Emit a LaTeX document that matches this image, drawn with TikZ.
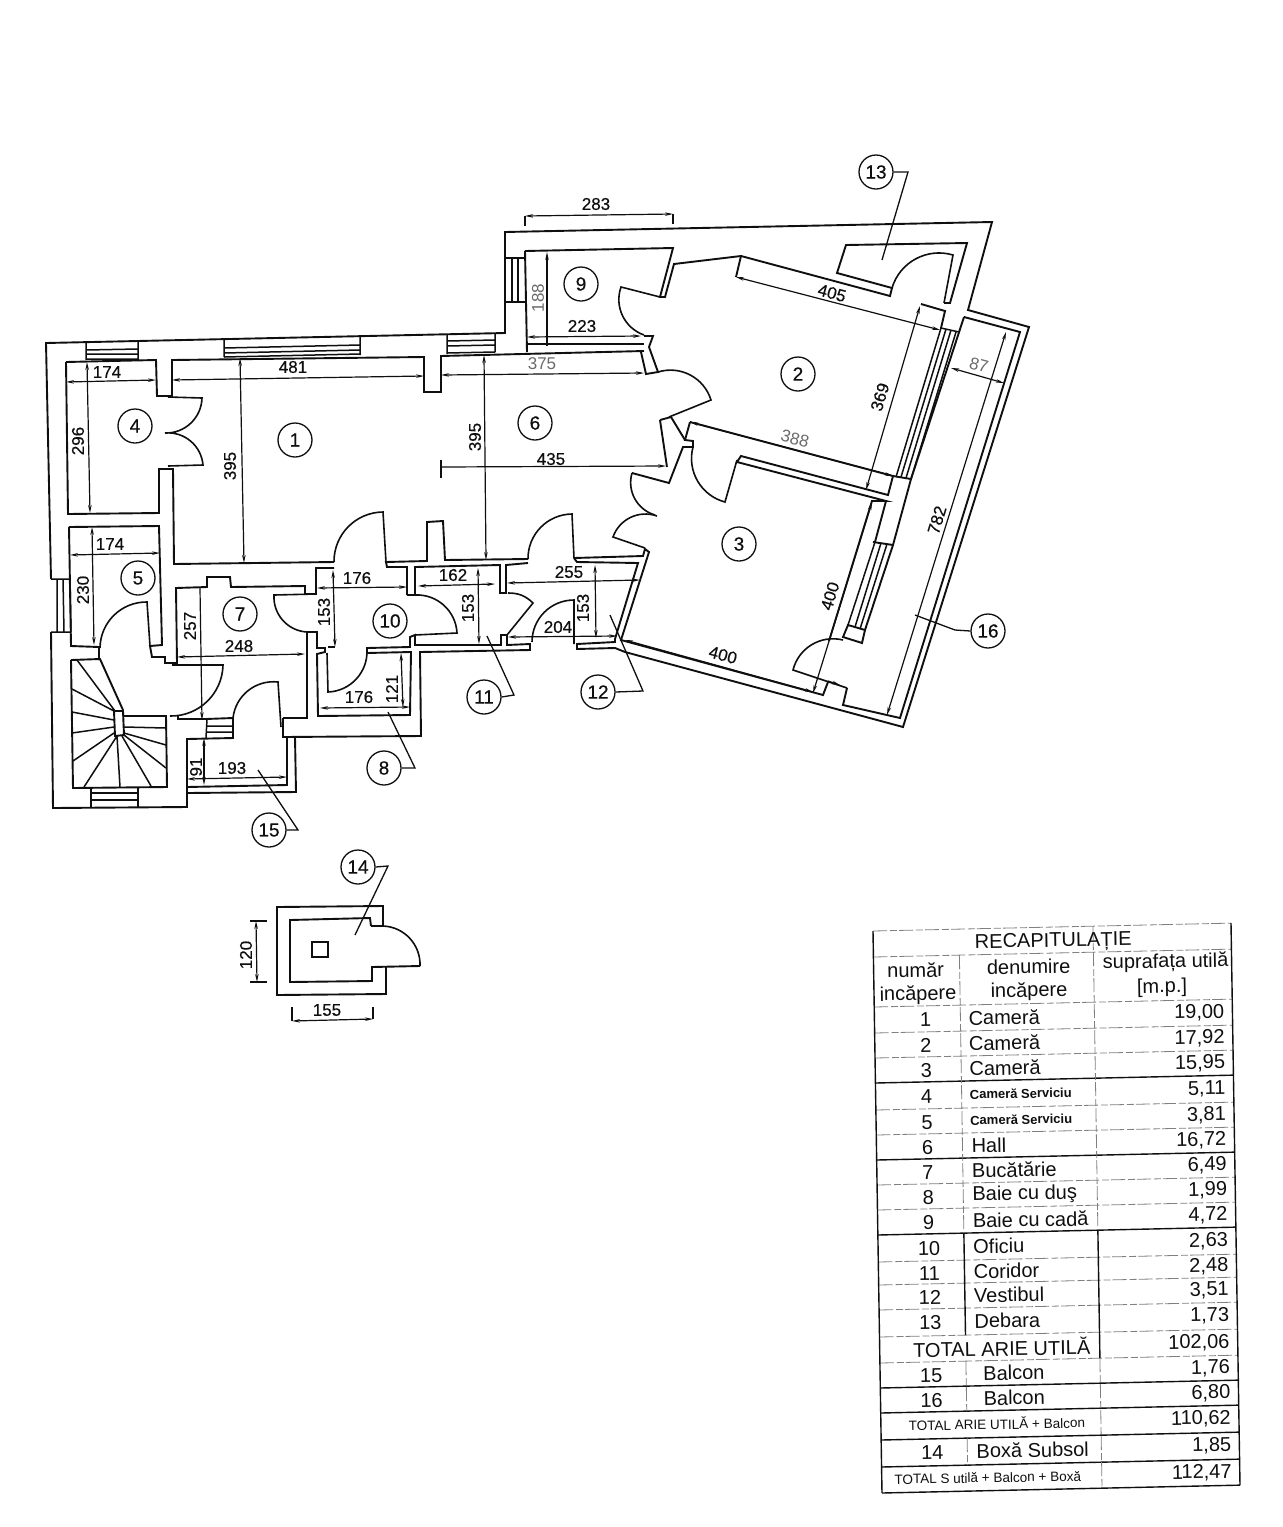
\documentclass[tikz,border=0pt]{standalone}
\usepackage{fontspec}
\setmainfont{Liberation Sans}
\newfontfamily\plandigits[FakeBold=0.5]{Liberation Sans}
\usetikzlibrary{arrows.meta}
\definecolor{ink}{gray}{0.06}
\tikzset{
 wall/.style={draw=ink,line width=1.9pt,line join=miter},
 thin wall/.style={draw=ink,line width=1.5pt},
 doorarc/.style={draw=ink,line width=1.6pt},
 dimn/.style={draw=ink,line width=1.2pt,{Stealth[length=8pt,width=3.5pt]}-{Stealth[length=8pt,width=3.5pt]}},
 dimend/.style={draw=ink,line width=1.2pt,-{Stealth[length=8pt,width=3.5pt]}},
 dimfree/.style={draw=ink,line width=1.2pt},
 ldr/.style={draw=ink,line width=1.3pt},
 dimt/.style={inner sep=0pt,text=ink,font=\plandigits\fontsize{17}{18}\selectfont},
 dimg/.style={inner sep=0pt,text=black!58,font=\fontsize{17}{18}\selectfont},
 roomno/.style={circle,draw=ink,line width=1.3pt,minimum size=34pt,inner sep=0pt,text=ink,font=\plandigits\fontsize{19}{20}\selectfont},
 solidrow/.style={draw=ink,line width=1.4pt},
 lightrow/.style={draw=black!50,line width=0.8pt,dash pattern=on 14pt off 3pt on 7pt off 2pt},
 tnum/.style={inner sep=0pt,text=ink,font=\fontsize{20}{22}\selectfont,rotate=1},
 tname/.style={inner sep=0pt,anchor=west,text=ink,font=\fontsize{20}{22}\selectfont,rotate=1},
 tval/.style={inner sep=0pt,anchor=east,text=ink,font=\fontsize{20}{22}\selectfont,rotate=1},
}
\newcommand\trow[5]{%
 \node[tnum] (a#1) at (51,#2+1) {#1};
 \node[tname] (b#1) at (#5,#2) {#3};
 \node[tval] (c#1) at (350,#2) {#4};}
\newcommand\smb{\fontsize{13}{14}\selectfont\bfseries}
\newcommand\smt{\fontsize{13.5}{14}\selectfont}
\begin{document}
\begin{tikzpicture}[x=1pt,y=-1pt]
\useasboundingbox (0,0) rectangle (1283,1527);
\fill[white] (0,0) rectangle (1283,1527);

% ---------- outer shell
\path[wall] (51,579)--(46,343)--(505,333)--(505,232)--(992,222)--(968,310)--(1029,327)--(903,727)--(625,652)--(615,648)--(577,649)--(577,644)--(615,642)--(615,639)--(638,563)--(577,562)--(574,558);
\path[wall] (51,632)--(53,808)--(187,807)--(187,739)--(233,738)--(233,718)--(206,719)--(178,719)--(178,716);
\path[wall] (283,718)--(283,737)--(421,736)--(420,652)--(530,650)--(530,644)--(507,645)--(507,635)--(501,635)--(501,645)--(415,645)--(415,635)--(410,637)--(410,647)--(367,648)--(367,653)--(411,652)--(410,715)--(318,716)--(317,654)--(325,652)--(325,648)--(317,648)--(317,632)--(307,632)--(307,718)--(283,718);
\path[wall] (187,793)--(296,792)--(295,737);
\path[wall] (187,787)--(287,785)--(287,738);

% ---------- windows
\path[thin wall] (86,342)--(86,360) (138,341)--(138,360) (86,350)--(138,349) (86,354)--(138,354) (86,359)--(138,359);
\path[thin wall] (224,340)--(224,357) (360,337)--(360,355) (224,348)--(360,345) (224,353)--(360,350) (224,357)--(360,354);
\path[thin wall] (447,335)--(447,354) (495,334)--(495,352) (447,341)--(495,340) (447,346)--(495,345) (447,353)--(495,352);
\path[thin wall] (51,579)--(70,579) (51,632)--(71,632) (57,579)--(57,632) (63,579)--(64,632) (70,579)--(71,632);
\path[thin wall] (505,258)--(525,258) (505,302)--(526,302) (512,258)--(512,302) (518,258)--(518,302);
\path[thin wall] (91,788)--(91,807) (138,787)--(138,807) (91,793)--(138,793) (91,800)--(138,800);
\path[thin wall] (207,719)--(206,738) (207,726)--(233,726) (207,732)--(233,732);
% room 2 / balcony window
\path[thin wall] (941,328)--(896,477) (946,329)--(901,477) (951,330)--(906,478) (956,332)--(911,479) (941,328)--(959,332);
% room 3 window
\path[wall] (911,479)--(893,545)--(873,542) (893,545)--(865,630)--(862,643)--(843,637)--(848,625)--(865,630);
\path[thin wall] (848,625)--(875,542) (855,627)--(881,543) (860,629)--(887,544);

% ---------- interior walls
\path[wall] (66,362)--(156,360)--(157,396)--(172,396)--(172,360)--(424,357)--(424,392)--(441,392)--(441,356)--(644,351);
\path[wall] (66,362)--(68,514)--(159,513)--(159,469)--(173,469)--(174,564)--(334,562);
\path[wall] (69,527)--(159,526)--(162,645)--(150,646)--(152,657)--(165,657)--(165,663)--(177,663)--(176,588)--(207,587)--(207,577)--(230,577)--(231,587)--(305,586)--(305,594)--(316,594)--(316,568)--(334,568);
\path[wall] (69,527)--(71,646)--(99,647)--(99,660);
\path[wall] (407,595)--(407,567)--(387,567)--(386,562)--(427,561)--(427,522)--(443,521)--(445,560)--(528,559);
\path[wall] (407,595)--(415,595)--(415,567)--(500,565)--(500,593)--(506,593)--(506,565)--(528,563);
\path[wall] (574,558)--(643,556)--(645,549)--(649,552)--(621,640)--(823,695)--(828,682);
\path[wall] (525,251)--(673,248)--(660,297)--(665,297)--(674,264)--(741,256)--(890,296)--(892,288)--(837,273)--(846,245)--(967,243)--(950,303)--(944,303);
\path[wall] (525,251)--(527,352);
\path[wall] (527,344)--(644,344);
\path[wall] (644,336)--(653,336)--(649,347)--(658,372)--(646,374)--(641,352);
\path[wall] (741,256)--(736,277);
\path[wall] (921,304)--(945,311)--(941,328);
\path[wall] (964,317)--(959,332) (964,317)--(911,479);
\path[wall] (964,317)--(1020,332)--(900,718)--(843,705)--(847,688);
\path[wall] (690,422)--(893,476)--(888,495)--(741,456)--(737,462)--(886,501)--(872,501)--(829,641);
\path[wall] (886,501)--(875,542);
\path[wall] (893,476)--(911,479);
\path[wall] (690,422)--(685,440)--(693,441)--(693,447)--(683,447)--(669,483)--(632,473);
\path[wall] (660,420)--(671,417)--(685,440) (660,420)--(667,467);

% ---------- door leaves and swings
\path[doorarc] (168,397)--(202,398) to[bend left=45] (165,433) to[bend left=45] (203,465)--(168,466);
\path[doorarc] (334,562) to[bend left=45] (383,512)--(386,562);
\path[doorarc] (528,559) to[bend left=45] (572,514)--(574,558);
\path[doorarc] (660,297)--(621,287) to[bend right=45] (644,335);
\path[doorarc] (658,372) to[bend left=45] (711,400)--(669,417);
\path[doorarc] (632,473) to[bend right=45] (655,515);
\path[doorarc] (657,516) to[bend right=45] (613,537)--(645,548);
\path[doorarc] (693,447) to[bend right=45] (725,502)--(737,460);
\path[doorarc] (847,688)--(793,670) to[bend left=45] (843,640);
\path[doorarc] (892,288) to[bend left=45] (953,255)--(944,303);
\path[doorarc] (415,595) to[bend left=45] (457,633)--(415,635);
\path[doorarc] (508,593) to[bend left=22] (533,603)--(507,635);
\path[doorarc] (574,644)--(574,600) to[bend right=45] (532,642);
\path[doorarc] (316,594)--(274,595) to[bend right=45] (307,632);
\path[doorarc] (327,653)--(328,692) to[bend right=45] (367,650);
\path[doorarc] (281,727)--(278,682) to[bend right=45] (233,718);
\path[doorarc] (150,646)--(147,602) to[bend right=45] (100,648);
\path[doorarc] (172,665)--(223,665) to[bend left=45] (170,716);

% ---------- stairs
\path[wall] (71,660)--(100,659)--(123,710);
\path[wall] (71,660)--(73,788)--(167,787)--(166,716)--(124,716);
\path[wall] (114,711)--(123,711)--(124,735)--(115,736)--cycle;
\path[thin wall] (77,660)--(115,711) (72,689)--(114,711) (72,712)--(114,720) (72,733)--(114,727) (73,761)--(114,733) (84,787)--(117,736) (120,787)--(117,736) (151,786)--(122,736) (166,768)--(124,735) (166,745)--(124,733) (166,728)--(124,727);

% ---------- dimension lines
\path[dimn] (525,216)--(673,214);
\path[dimfree] (525,216)--(525,226) (673,214)--(673,224);
\path[dimend] (547,346)--(547,252);
\path[dimn] (527,337)--(641,336);
\path[dimn] (441,375)--(644,373);
\path[dimn] (172,380)--(424,376);
\path[dimn] (66,382)--(156,380);
\path[dimn] (87,362)--(90,513);
\path[dimn] (70,555)--(160,553);
\path[dimn] (92,527)--(94,645);
\path[dimn] (240,358)--(244,563);
\path[dimn] (484,355)--(486,560);
\path[dimend] (441,467)--(666,466);
\path[dimfree] (441,460)--(441,478);
\path[dimend] (200,588)--(202,720);
\path[dimn] (177,657)--(305,654);
\path[dimn] (317,588)--(407,587);
\path[dimn] (333,570)--(335,647);
\path[dimfree] (328,647)--(335,647);
\path[dimn] (418,586)--(495,584);
\path[dimn] (478,568)--(479,644);
\path[dimn] (507,583)--(640,580);
\path[dimn] (595,565)--(596,638);
\path[dimn] (508,637)--(617,636);
\path[dimn] (320,708)--(410,707);
\path[dimn] (401,653)--(403,707);
\path[dimn] (187,779)--(287,777);
\path[dimn] (204,738)--(204,785);
\path[dimn] (736,277)--(940,330);
\path[dimn] (690,422)--(893,476);
\path[dimn] (920,306)--(866,490);
\path[dimn] (951,368)--(1004,383);
\path[dimn] (1006,332)--(887,715);
\path[dimn] (872,502)--(813,693);
\path[dimn] (625,640)--(813,692);
\path[dimend] (828,681)--(840,685);

% ---------- dimension texts
\node[dimt] (d283) at (596,204) {283};
\node[dimg,rotate=90] (d188) at (538,298) {188};
\node[dimt] (d223) at (582,326) {223};
\node[dimg] (d375) at (542,364) {375};
\node[dimt] (d481) at (293,367) {481};
\node[dimt] (d174a) at (107,372) {174};
\node[dimt,rotate=90] (d296) at (78,441) {296};
\node[dimt] (d174b) at (110,544) {174};
\node[dimt,rotate=90] (d230) at (83,590) {230};
\node[dimt,rotate=90] (d395a) at (230,466) {395};
\node[dimt,rotate=90] (d395b) at (475,437) {395};
\node[dimt] (d435) at (551,459) {435};
\node[dimt,rotate=90] (d257) at (190,626) {257};
\node[dimt] (d248) at (239,646) {248};
\node[dimt] (d176a) at (357,578) {176};
\node[dimt,rotate=90] (d153a) at (324,612) {153};
\node[dimt] (d162) at (453,575) {162};
\node[dimt,rotate=90] (d153b) at (468,608) {153};
\node[dimt] (d255) at (569,572) {255};
\node[dimt,rotate=90] (d153c) at (583,608) {153};
\node[dimt] (d204) at (558,627) {204};
\node[dimt] (d176b) at (359,697) {176};
\node[dimt,rotate=90] (d121) at (392,689) {121};
\node[dimt] (d193) at (232,768) {193};
\node[dimt,rotate=90] (d91) at (196,767) {91};
\node[dimt,rotate=-15] (d405) at (832,293) {405};
\node[dimg,rotate=-15] (d388) at (795,439) {388};
\node[dimt,rotate=73] (d369) at (880,397) {369};
\node[dimg,rotate=-15] (d87) at (979,365) {87};
\node[dimt,rotate=73] (d782) at (937,520) {782};
\node[dimt,rotate=73] (d400a) at (830,596) {400};
\node[dimt,rotate=-15] (d400b) at (723,655) {400};

% ---------- room numbers
\node[roomno] (r1) at (295,440) {1};
\node[roomno] (r2) at (798,374) {2};
\node[roomno] (r3) at (739,544) {3};
\node[roomno] (r4) at (135,426) {4};
\node[roomno] (r5) at (138,578) {5};
\node[roomno] (r6) at (535,423) {6};
\node[roomno] (r7) at (240,614) {7};
\node[roomno] (r8) at (384,768) {8};
\node[roomno] (r9) at (581,284) {9};
\node[roomno] (r10) at (390,621) {10};
\node[roomno] (r11) at (484,697) {11};
\node[roomno] (r12) at (598,692) {12};
\node[roomno] (r13) at (876,172) {13};
\node[roomno] (r14) at (358,867) {14};
\node[roomno] (r15) at (269,830) {15};
\node[roomno] (r16) at (988,631) {16};

% ---------- leaders
\coordinate (e8) at (415,768); \coordinate (t8) at (388,712);
\coordinate (e11) at (514,695); \coordinate (t11) at (487,636);
\coordinate (e12) at (643,691); \coordinate (t12) at (610,615);
\coordinate (e13) at (908,172); \coordinate (t13) at (882,260);
\coordinate (e14) at (388,866); \coordinate (t14) at (355,935);
\coordinate (e15) at (298,830); \coordinate (t15) at (258,770);
\coordinate (e16) at (955,630); \coordinate (t16) at (915,615);
\path[ldr] (r8.east)--(e8)--(t8);
\path[ldr] (r11.east)--(e11)--(t11);
\path[ldr] (r12.east)--(e12)--(t12);
\path[ldr] (r13.east)--(e13)--(t13);
\path[ldr] (r14.east)--(e14)--(t14);
\path[ldr] (r15.east)--(e15)--(t15);
\path[ldr] (r16.west)--(e16)--(t16);

% ---------- storage box 14
\path[wall] (371,926)--(370,918)--(290,920)--(290,982)--(372,981)--(372,967)--(420,966);
\path[wall] (386,967)--(386,994)--(277,995)--(277,907)--(383,906)--(383,926)--(371,926);
\path[doorarc] (383,926) to[bend left=45] (420,966);
\path[thin wall] (312,942) rectangle (328,957);
\path[dimn] (256,921)--(257,982);
\path[dimfree] (250,921)--(267,921) (250,982)--(267,982);
\path[dimn] (292,1021)--(373,1019);
\path[dimfree] (292,1007)--(292,1021) (373,1007)--(373,1019);
\node[dimt,rotate=90] (d120) at (246,955) {120};
\node[dimt] (d155) at (327,1010) {155};

% ---------- table
\begin{scope}[shift={(873,931)},x={(1pt,0.022pt)},y={(0.016pt,-1pt)}]
 \foreach \r in {0,26,76,102,127,179,204,254,279,331,354,379,406,432}
   \path[lightrow] (0,\r)--(358,\r);
 \foreach \r in {152,229,304,457,482,509,536,562}
   \path[solidrow] (0,\r)--(358,\r);
 \path[solidrow] (0,0)--(0,562);
 \path[solidrow] (358,0)--(358,562);
 \path[lightrow] (86,26)--(86,304);
 \path[solidrow] (86,304)--(86,406);
 \path[lightrow] (86,432)--(86,482);
 \path[lightrow] (86,509)--(86,536);
 \path[lightrow] (220,0)--(220,304) (220,432)--(220,562);
 \path[solidrow] (220,304)--(220,432);
 \node[tnum] (title) at (180,15) {RECAPITULAȚIE};
 \node[tnum] (h1a) at (42,40) {număr};
 \node[tnum] (h1b) at (44,65) {incăpere};
 \node[tnum] (h2a) at (155,39) {denumire};
 \node[tnum] (h2b) at (155,64) {incăpere};
 \node[tnum] (h3a) at (292,38) {suprafața utilă};
 \node[tnum] (h3b) at (288,63) {[m.p.]};
 \trow{1}{89}{Cameră}{19,00}{94}
 \trow{2}{114.5}{Cameră}{17,92}{94}
 \trow{3}{139.5}{Cameră}{15,95}{94}
 \trow{4}{165.5}{\smb Cameră Serviciu}{5,11}{94}
 \trow{5}{191.5}{\smb Cameră Serviciu}{3,81}{94}
 \trow{6}{216.5}{Hall}{16,72}{95}
 \trow{7}{241.5}{Bucătărie}{6,49}{95}
 \trow{8}{266.5}{Baie cu duş}{1,99}{95}
 \trow{9}{291.5}{Baie cu cadă}{4,72}{95}
 \trow{10}{317.5}{Oficiu}{2,63}{95}
 \trow{11}{342.5}{Coridor}{2,48}{95}
 \trow{12}{366.5}{Vestibul}{3,51}{95}
 \trow{13}{392}{Debara}{1,73}{95}
 \node[tnum] (tot1) at (122,419) {TOTAL ARIE UTILĂ};
 \node[tval] (ctot1) at (350,419) {102,06};
 \trow{15}{444.5}{Balcon}{1,76}{103}
 \trow{16}{469.5}{Balcon}{6,80}{103}
 \node[tnum,font=\smt] (tot2) at (116,495) {TOTAL ARIE UTILĂ + Balcon};
 \node[tval] (ctot2) at (350,495) {110,62};
 \trow{14}{522}{Boxă Subsol}{1,85}{95}
 \node[tnum,font=\smt] (tot3) at (106,549) {TOTAL S utilă + Balcon + Boxă};
 \node[tval] (ctot3) at (350,549) {112,47};
\end{scope}
\end{tikzpicture}
\end{document}
